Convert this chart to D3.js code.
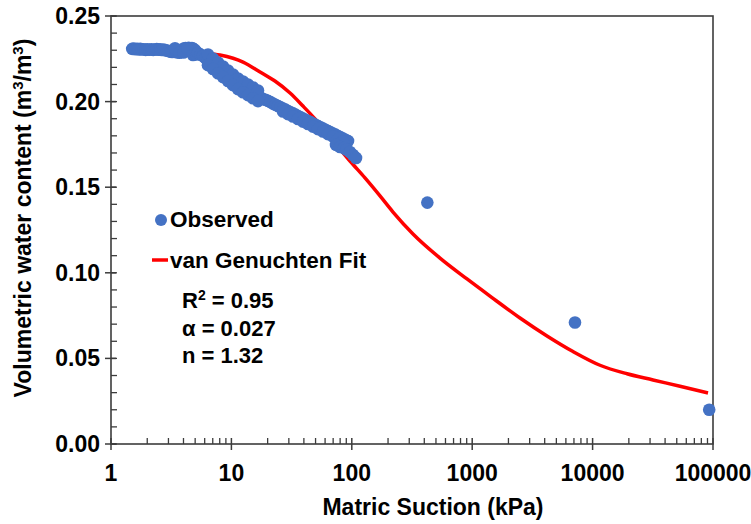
<!DOCTYPE html>
<html>
<head>
<meta charset="utf-8">
<script src="https://cdn.jsdelivr.net/npm/d3@7"></script>
<style>
  html, body { margin: 0; padding: 0; background: #fff; }
  svg { display: block; }
  text { font-family: "Liberation Sans", Arial, sans-serif; fill: #000; }
</style>
</head>
<body>
<svg id="chart" width="751" height="524"></svg>
<script>
// Observed soil water retention: suction (kPa) and volumetric water content (m3/m3)
// plateau near saturation
const plateauSuction = [
  1.50, 1.55, 1.60, 1.65, 1.70, 1.75, 1.80, 1.87, 1.94, 2.00, 2.08, 2.16, 2.24, 2.32, 2.40,
  2.48, 2.56, 2.65, 2.74, 2.83, 2.92, 3.02, 3.12, 3.22, 3.33, 3.44, 3.55, 3.66, 3.78, 3.90,
  4.02, 4.15, 4.28, 4.42, 4.56, 4.70, 4.85, 5.00, 3.40, 3.70, 4.00, 4.30, 4.80, 5.10
];
const plateauTheta = [
  0.2308, 0.2310, 0.2306, 0.2309, 0.2305, 0.2308, 0.2304, 0.2306, 0.2302, 0.2305, 0.2303, 0.2306, 0.2302, 0.2304, 0.2307,
  0.2303, 0.2305, 0.2301, 0.2304, 0.2300, 0.2298, 0.2295, 0.2292, 0.2290, 0.2293, 0.2290, 0.2288, 0.2292, 0.2296, 0.2300,
  0.2310, 0.2313, 0.2310, 0.2314, 0.2311, 0.2313, 0.2308, 0.2300, 0.2312, 0.2285, 0.2287, 0.2310, 0.2272, 0.2275
];
// main drying branch
const branchSuction = [
  5.28, 5.54, 5.81, 6.09, 6.39, 6.70, 7.03, 7.38, 7.74, 8.12, 8.52, 8.93, 9.37, 9.83, 10.31,
  10.81, 11.34, 11.90, 12.48, 13.09, 13.74, 14.41, 15.12, 15.86, 16.63, 17.45, 18.30, 19.20, 20.14, 21.12,
  22.16, 23.24, 24.38, 25.58, 26.83, 28.14, 29.52, 30.96, 32.48, 34.07, 35.74, 37.49, 39.33, 41.25, 43.28,
  45.40, 47.62, 49.95, 52.40, 54.96, 57.66, 60.48, 63.44, 66.55, 69.82, 73.23, 76.82, 80.58, 84.53, 88.67, 93.0
];
const branchTheta = [
  0.2284, 0.2275, 0.2266, 0.2255, 0.2243, 0.2232, 0.2220, 0.2208, 0.2196, 0.2185, 0.2173, 0.2162, 0.2150, 0.2138, 0.2126,
  0.2115, 0.2103, 0.2094, 0.2085, 0.2077, 0.2068, 0.2059, 0.2050, 0.2042, 0.2033, 0.2024, 0.2015, 0.2010, 0.2004, 0.1997,
  0.1989, 0.1982, 0.1974, 0.1967, 0.1960, 0.1953, 0.1945, 0.1938, 0.1931, 0.1924, 0.1916, 0.1909, 0.1901, 0.1894, 0.1887,
  0.1880, 0.1872, 0.1865, 0.1857, 0.1850, 0.1843, 0.1836, 0.1828, 0.1821, 0.1814, 0.1807, 0.1799, 0.1792, 0.1784, 0.1777, 0.1770
];
// scatter either side of the branch
const spreadSuction = [
  6.39, 7.03, 7.74, 8.52, 9.37, 10.31, 11.34, 12.48, 13.74, 15.12, 16.63,
  6.39, 7.03, 7.74, 8.52, 9.37, 10.31, 11.34, 12.48, 13.74, 15.12, 16.63,
  26.83, 29.52, 32.48, 35.74, 39.33, 43.28, 47.62, 52.40, 57.66, 63.44, 69.82, 76.82, 84.53
];
const spreadTheta = [
  0.2275, 0.2252, 0.2228, 0.2205, 0.2182, 0.2158, 0.2135, 0.2117, 0.2100, 0.2082, 0.2065,
  0.2213, 0.2190, 0.2166, 0.2143, 0.2120, 0.2096, 0.2073, 0.2055, 0.2038, 0.2020, 0.2003,
  0.1942, 0.1927, 0.1913, 0.1898, 0.1883, 0.1869, 0.1854, 0.1839, 0.1825, 0.1810, 0.1796, 0.1781, 0.1766
];
// end of the tensiometer range and the pressure-plate points
const tailSuction = [73.9, 79.8, 86.1, 90.0, 96.6, 102.4, 108.4, 424, 7140, 93000];
const tailTheta = [0.1747, 0.1735, 0.1729, 0.1720, 0.1706, 0.1688, 0.1671, 0.141, 0.071, 0.020];

const obsSuction = plateauSuction.concat(branchSuction, spreadSuction, tailSuction);
const obsTheta = plateauTheta.concat(branchTheta, spreadTheta, tailTheta);

// van Genuchten fitted curve
const fitSuction = [1.4, 2, 3, 4, 5.49, 8.04, 12.5, 17.3, 23.0, 30.7, 39.3, 49.5, 65.9, 96.6, 128.7,
  171.5, 219.9, 322.3, 540.2, 905.3, 1405, 2495, 4181, 6874, 11520, 19310, 31750, 53210, 90900];
const fitTheta = [0.2318, 0.2316, 0.2309, 0.2299, 0.2287, 0.2272, 0.2231, 0.2173, 0.2120, 0.2050, 0.1974,
  0.1899, 0.1794, 0.1653, 0.1554, 0.1449, 0.1355, 0.1227, 0.1086, 0.0964, 0.0864, 0.0736, 0.0631,
  0.0540, 0.0460, 0.0410, 0.0374, 0.0337, 0.0298];

const xTickValues = [1, 10, 100, 1000, 10000, 100000];
const yTickValues = [0, 0.05, 0.10, 0.15, 0.20, 0.25];

const blue = "#4472C4";
const red = "#FF0000";
const axisColor = "#3c3c3c";

const svg = d3.select("#chart");
const plotLeft = 111, plotRight = 713, plotTop = 16, plotBottom = 444;

const x = d3.scaleLog().domain([1, 100000]).range([plotLeft, plotRight]);
const y = d3.scaleLinear().domain([0, 0.25]).range([plotBottom, plotTop]);

// plot frame
svg.append("rect")
  .attr("x", plotLeft).attr("y", plotTop)
  .attr("width", plotRight - plotLeft).attr("height", plotBottom - plotTop)
  .attr("fill", "none").attr("stroke", axisColor).attr("stroke-width", 1.6);

// y axis: major ticks crossing, minor ticks inside
const yMinor = d3.range(0, 0.2501, 0.01);
svg.append("g").selectAll("line").data(yMinor).join("line")
  .attr("x1", plotLeft).attr("x2", plotLeft + 6)
  .attr("y1", d => y(d)).attr("y2", d => y(d))
  .attr("stroke", axisColor).attr("stroke-width", 1.3);
svg.append("g").selectAll("line").data(yTickValues).join("line")
  .attr("x1", plotLeft - 6).attr("x2", plotLeft + 5)
  .attr("y1", d => y(d)).attr("y2", d => y(d))
  .attr("stroke", axisColor).attr("stroke-width", 1.5);
svg.append("g").selectAll("text").data(yTickValues).join("text")
  .attr("x", plotLeft - 11).attr("y", d => y(d)).attr("dy", "0.35em")
  .attr("text-anchor", "end")
  .style("font-size", "23px").style("font-weight", "bold")
  .text(d => d3.format(".2f")(d));

// x axis: major ticks crossing, minor ticks inside
const xMinor = [];
for (let e = 0; e < 5; e++) for (let k = 2; k <= 9; k++) xMinor.push(k * Math.pow(10, e));
svg.append("g").selectAll("line").data(xMinor).join("line")
  .attr("x1", d => x(d)).attr("x2", d => x(d))
  .attr("y1", plotBottom).attr("y2", plotBottom - 6)
  .attr("stroke", axisColor).attr("stroke-width", 1.3);
svg.append("g").selectAll("line").data(xTickValues).join("line")
  .attr("x1", d => x(d)).attr("x2", d => x(d))
  .attr("y1", plotBottom + 6).attr("y2", plotBottom - 6)
  .attr("stroke", axisColor).attr("stroke-width", 1.5);
svg.append("g").selectAll("text").data(xTickValues).join("text")
  .attr("x", d => x(d)).attr("y", 481)
  .attr("text-anchor", "middle")
  .style("font-size", "23px").style("font-weight", "bold")
  .text(d => String(d));

// axis titles
svg.append("text")
  .attr("x", 433).attr("y", 515)
  .attr("text-anchor", "middle")
  .style("font-size", "23px").style("font-weight", "bold")
  .text("Matric Suction (kPa)");

const yTitle = svg.append("text")
  .attr("transform", "translate(31,218) rotate(-90)")
  .attr("text-anchor", "middle")
  .style("font-size", "23px").style("font-weight", "bold");
yTitle.append("tspan").text("Volumetric water content (m");
yTitle.append("tspan").attr("dy", -8).style("font-size", "15px").text("3");
yTitle.append("tspan").attr("dy", 8).text("/m");
yTitle.append("tspan").attr("dy", -8).style("font-size", "15px").text("3");
yTitle.append("tspan").attr("dy", 8).text(")");

// fitted curve
const line = d3.line()
  .x((d, i) => x(fitSuction[i]))
  .y((d, i) => y(fitTheta[i]))
  .curve(d3.curveMonotoneX);
svg.append("path")
  .datum(fitTheta)
  .attr("d", line)
  .attr("fill", "none").attr("stroke", red).attr("stroke-width", 3.5);

// observed points
svg.append("g").selectAll("circle").data(obsTheta).join("circle")
  .attr("cx", (d, i) => x(obsSuction[i]))
  .attr("cy", d => y(d))
  .attr("r", 6.3)
  .attr("fill", blue);

// legend
svg.append("circle").attr("cx", 161).attr("cy", 220).attr("r", 6).attr("fill", blue);
svg.append("text").attr("x", 170).attr("y", 227)
  .style("font-size", "22.5px").style("font-weight", "bold").text("Observed");
svg.append("line").attr("x1", 152).attr("x2", 168).attr("y1", 260).attr("y2", 260)
  .attr("stroke", red).attr("stroke-width", 3.5);
svg.append("text").attr("x", 170).attr("y", 268)
  .style("font-size", "22.5px").style("font-weight", "bold").text("van Genuchten Fit");

// fit statistics
const stats = svg.append("g").style("font-size", "22px").style("font-weight", "bold");
const r2 = stats.append("text").attr("x", 182).attr("y", 308);
r2.append("tspan").text("R");
r2.append("tspan").attr("dy", -8).style("font-size", "14px").text("2");
r2.append("tspan").attr("dy", 8).text(" = 0.95");
stats.append("text").attr("x", 182).attr("y", 336).text("\u03B1 = 0.027");
stats.append("text").attr("x", 182).attr("y", 363).text("n = 1.32");
</script>
</body>
</html>
